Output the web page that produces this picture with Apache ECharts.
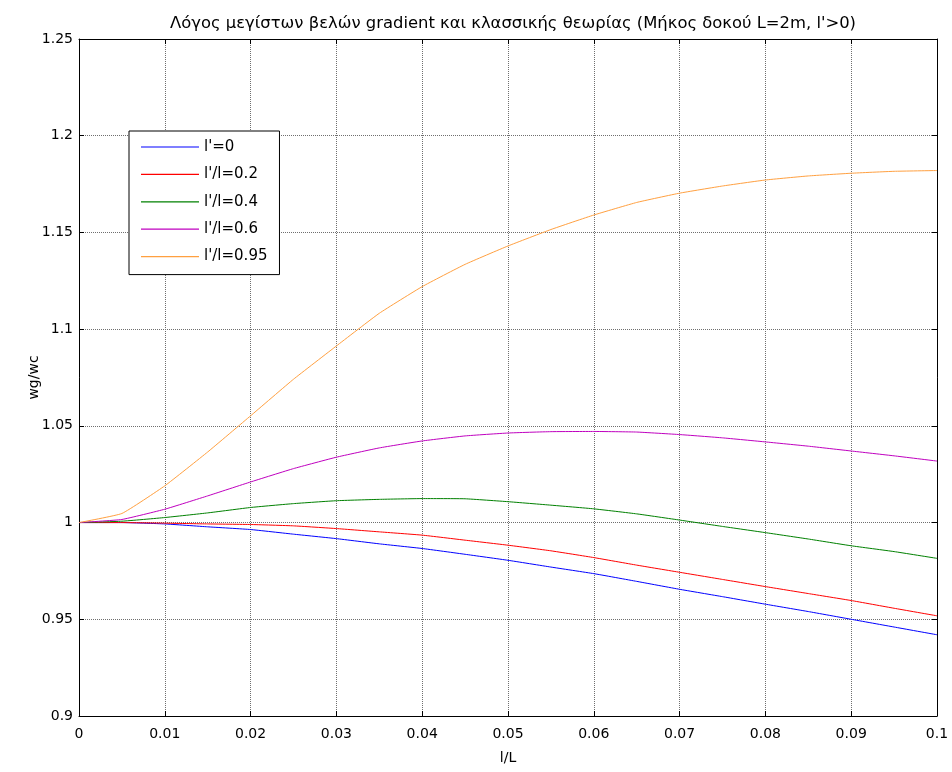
<!DOCTYPE html>
<html>
<head>
<meta charset="utf-8">
<script src="https://cdn.jsdelivr.net/npm/echarts@6/dist/echarts.min.js"></script>
<style>html,body{margin:0;padding:0;background:#fff;}#c{width:952px;height:772px;}</style>
</head>
<body>
<div id="c"></div>
<script>
const titleText = "Λόγος μεγίστων βελών gradient και κλασσικής θεωρίας (Μήκος δοκού L=2m, l'>0)";
const xName = "l/L";
const yName = "wg/wc";
const xVals = [0, 0.005, 0.01, 0.015, 0.02, 0.025, 0.03, 0.035, 0.04, 0.045, 0.05, 0.055, 0.06, 0.065, 0.07, 0.075, 0.08, 0.085, 0.09, 0.095, 0.1];
const seriesNames = ["l'=0", "l'/l=0.2", "l'/l=0.4", "l'/l=0.6", "l'/l=0.95"];
const blueVals   = [1.0, 1.0, 0.9993, 0.9978, 0.9964, 0.994, 0.9917, 0.989, 0.9866, 0.9836, 0.9805, 0.977, 0.9736, 0.9696, 0.9655, 0.9617, 0.9578, 0.954, 0.95, 0.946, 0.942];
const redVals    = [1.0, 1.0, 0.9997, 0.9993, 0.999, 0.9983, 0.9969, 0.9952, 0.9935, 0.9909, 0.9883, 0.9854, 0.9819, 0.978, 0.9743, 0.9706, 0.9669, 0.9633, 0.9597, 0.9557, 0.9518];
const greenVals  = [1.0, 1.0007, 1.0026, 1.005, 1.0078, 1.0098, 1.0113, 1.012, 1.0124, 1.0123, 1.0108, 1.009, 1.0071, 1.0045, 1.0013, 0.998, 0.9948, 0.9915, 0.988, 0.985, 0.9815];
const magentaVals= [1.0, 1.0016, 1.0069, 1.0138, 1.021, 1.0279, 1.0338, 1.0386, 1.0422, 1.0448, 1.0463, 1.047, 1.0471, 1.0468, 1.0455, 1.0438, 1.0417, 1.0395, 1.037, 1.0345, 1.0318];
const orangeVals = [1.0, 1.0047, 1.019, 1.0365, 1.0552, 1.0741, 1.0913, 1.1082, 1.122, 1.1335, 1.143, 1.1515, 1.159, 1.1655, 1.1703, 1.174, 1.1771, 1.1792, 1.1806, 1.1816, 1.182];
const colors = ['#0000ff', '#ff0000', '#008000', '#bf00bf', '#ffa040'];
const allVals = [blueVals, redVals, greenVals, magentaVals, orangeVals];

const font = 'DejaVu Sans';
const fmt = v => String(+v.toFixed(3));

const chart = echarts.init(document.getElementById('c'), null, {renderer: 'canvas'});
const baseAxis = {
  axisLine: {show: true, onZero: false, lineStyle: {color: '#000', width: 1}},
  axisTick: {show: true, inside: true, length: 5, lineStyle: {color: '#000'}},
};
chart.setOption({
  animation: false,
  backgroundColor: '#fff',
  title: {
    text: titleText,
    left: 508, top: 11, textAlign: 'center',
    textStyle: {fontFamily: font, fontSize: 16.4, fontWeight: 'normal', color: '#000'}
  },
  grid: {left: 79, right: 15, top: 39, bottom: 56, containLabel: false},
  legend: {
    data: seriesNames,
    orient: 'vertical',
    left: 129, top: 131,
    padding: [7, 12, 9, 12],
    icon: 'rect',
    itemWidth: 58, itemHeight: 1.2, itemGap: 9.4,
    backgroundColor: '#fff',
    borderColor: '#000', borderWidth: 1,
    textStyle: {fontFamily: font, fontSize: 15, color: '#000', lineHeight: 18}
  },
  xAxis: [
    Object.assign({}, baseAxis, {
      type: 'value', min: 0, max: 0.1, interval: 0.01, position: 'bottom',
      name: xName, nameLocation: 'middle', nameGap: 35, nameMoveOverlap: false,
      nameTextStyle: {fontFamily: font, fontSize: 14, color: '#000'},
      axisLabel: {fontFamily: font, fontSize: 14, color: '#000', margin: 11, formatter: fmt},
      splitLine: {show: true, lineStyle: {color: '#6f6f6f', type: [1, 1], width: 1}}
    }),
    Object.assign({}, baseAxis, {
      type: 'value', min: 0, max: 0.1, interval: 0.01, position: 'top',
      axisLabel: {show: false}, splitLine: {show: false}
    })
  ],
  yAxis: [
    Object.assign({}, baseAxis, {
      type: 'value', min: 0.9, max: 1.25, interval: 0.05, position: 'left',
      name: yName, nameLocation: 'middle', nameGap: 38, nameRotate: 90, nameMoveOverlap: false,
      nameTextStyle: {fontFamily: font, fontSize: 14, color: '#000'},
      axisLabel: {fontFamily: font, fontSize: 14, color: '#000', margin: 6, formatter: fmt},
      splitLine: {show: true, lineStyle: {color: '#6f6f6f', type: [1, 1], width: 1}}
    }),
    Object.assign({}, baseAxis, {
      type: 'value', min: 0.9, max: 1.25, interval: 0.05, position: 'right',
      axisLabel: {show: false}, splitLine: {show: false}
    })
  ],
  series: seriesNames.map((n, i) => ({
    name: n,
    type: 'line',
    xAxisIndex: 0, yAxisIndex: 0,
    symbol: 'none',
    smooth: 0.12,
    color: colors[i],
    lineStyle: {color: colors[i], width: 1},
    data: xVals.map((x, j) => [x, allVals[i][j]])
  }))
});
</script>
</body>
</html>
